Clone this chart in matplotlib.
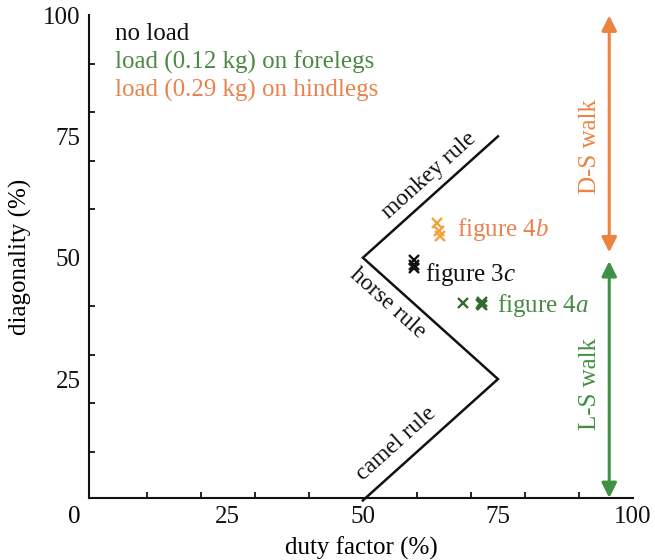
import matplotlib

matplotlib.use("Agg")
import matplotlib.pyplot as plt  # noqa: E402

plt.rcParams.update({
    "font.family": ["Liberation Serif", "DejaVu Serif"],
    "font.size": 18,
    "mathtext.fontset": "custom",
    "mathtext.it": "Liberation Serif:italic",
    "mathtext.rm": "Liberation Serif",
})

C = {
    "ink": "#111111",
    "green": "#4a8a44",
    "orange": "#e9834d",
    "green_mk": "#2f6b32",
    "orange_mk": "#f3a33c",
    "green_arrow": "#3f9143",
    "orange_arrow": "#ec8340",
}

# gait rule boundaries (duty factor %, diagonality %)
rule_x = [50, 75, 50, 75]
rule_y = [0, 25, 50, 75]
rule_names = ["monkey rule", "horse rule", "camel rule"]
rule_label_x = [62.3, 54.6, 56.1]
rule_label_y = [66.9, 40.6, 11.7]
rule_label_rot = [45, -45, 45]

# measured trials
noload_x = [59.4, 59.5, 59.4]
noload_y = [49.5, 48.6, 47.8]
hind_x = [63.8, 64.0, 64.2]
hind_y = [57.2, 55.6, 54.4]
fore_x = [68.5, 72.0, 72.1, 71.9]
fore_y = [40.6, 40.9, 40.2, 40.5]

fig_labels = ["figure $3c$", "figure $4b$", "figure $4a$"]
fig_label_x = [61.5, 67.4, 74.8]
fig_label_y = [46.6, 55.9, 40.1]

legend_texts = ["no load", "load (0.12 kg) on forelegs", "load (0.29 kg) on hindlegs"]
legend_y = [96.0, 90.3, 84.4]

walk_x = 95.6
ds_range = [51.1, 99.9]
ls_range = [0.5, 49.3]

fig = plt.figure(figsize=(6.55, 5.6), dpi=100)
ax = fig.add_axes([89 / 655, 62 / 560, 544 / 655, 483 / 560])
ax.set_xlim(-0.7, 100)
ax.set_ylim(0.5, 98.5)

ax.plot(rule_x, rule_y, color=C["ink"], linewidth=1.8, solid_joinstyle="miter",
        clip_on=False)
for name, lx, ly, rot in zip(rule_names, rule_label_x, rule_label_y, rule_label_rot):
    ax.text(lx, ly, name, rotation=rot, transform_rotates_text=True, fontsize=17,
            rotation_mode="anchor", ha="center", va="center", color=C["ink"])

mk = dict(marker="x", linestyle="none", markersize=7, markeredgewidth=1.7)
ax.plot(noload_x, noload_y, color=C["ink"], **mk)
ax.plot(hind_x, hind_y, color=C["orange_mk"], **mk)
ax.plot(fore_x, fore_y, color=C["green_mk"], **mk)

for txt, lx, ly, col in zip(fig_labels, fig_label_x, fig_label_y,
                            [C["ink"], C["orange"], C["green"]]):
    ax.text(lx, ly, txt, ha="left", va="center", color=col)

for txt, ly, col in zip(legend_texts, legend_y, [C["ink"], C["green"], C["orange"]]):
    ax.text(4.1, ly, txt, ha="left", va="center", color=col)

# walk-type range arrows
for (y0, y1), col, label, ly in [(ds_range, C["orange_arrow"], "D-S walk", 73),
                                 (ls_range, C["green_arrow"], "L-S walk", 24)]:
    ax.annotate("", xy=(walk_x, y1), xytext=(walk_x, y0),
                arrowprops=dict(arrowstyle="<|-|>,head_length=0.5,head_width=0.25",
                                color=col, lw=2.2, mutation_scale=18,
                                shrinkA=0, shrinkB=0),
                annotation_clip=False)
    ax.text(92.0, ly, label, rotation=90, ha="center", va="center", color=col)

# axes: inward ticks every 10, labels every 25
for side in ("top", "right"):
    ax.spines[side].set_visible(False)
for side in ("left", "bottom"):
    ax.spines[side].set_linewidth(1.5)
    ax.spines[side].set_color(C["ink"])
ax.set_xticks([25, 50, 75, 100])
ax.set_yticks([25, 50, 75, 100])
ax.set_xticks(range(10, 101, 10), minor=True)
ax.set_yticks(range(10, 101, 10), minor=True)
ax.tick_params(which="major", length=0, pad=6, labelsize=18, colors=C["ink"])
ax.tick_params(which="minor", direction="in", length=4, width=1.3, color=C["ink"])
ax.annotate("0", (0, 0), xytext=(-13, -12), textcoords="offset points",
            ha="center", va="center", annotation_clip=False)

ax.set_xlabel("duty factor (%)", labelpad=6)
ax.set_ylabel("diagonality (%)", labelpad=8)

fig.savefig("out.png", dpi=100)
